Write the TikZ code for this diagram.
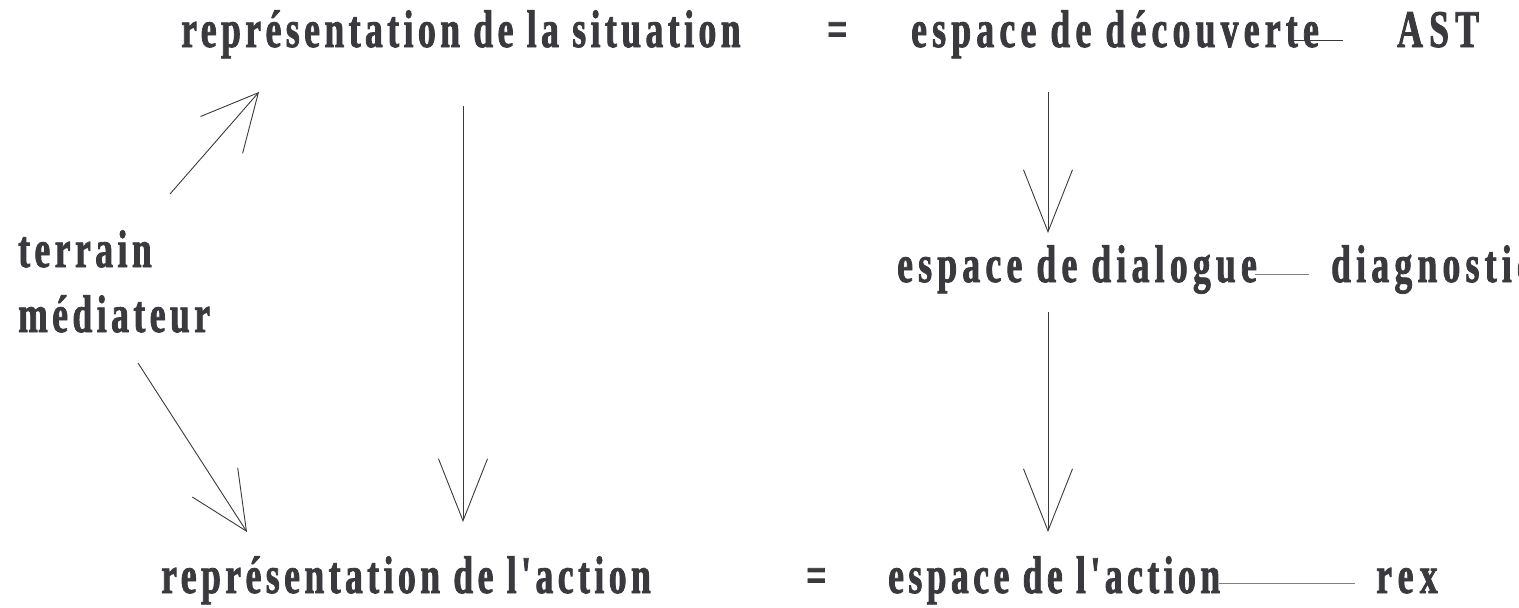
\documentclass[tikz,border=0pt]{standalone}
\usepackage{fontspec}
\newfontfamily\lbl{Liberation Serif}[FakeStretch=0.67,LetterSpace=8.5,FakeBold=1.5]
\newfontfamily\lblw{Liberation Serif}[FakeStretch=0.67,LetterSpace=10,FakeBold=1.5]
\newfontfamily\lblx{Liberation Serif}[FakeStretch=0.67,LetterSpace=12,FakeBold=1.5]
\usetikzlibrary{arrows.meta}
\definecolor{ink}{RGB}{58,58,62}
\begin{document}
\begin{tikzpicture}[x=1pt,y=-1pt,
  lab/.style={anchor=base west, inner sep=0pt, text=ink, font=\lbl\bfseries\fontsize{53}{56}\selectfont},
  labw/.style={lab, font=\lblw\bfseries\fontsize{53}{56}\selectfont},
  labx/.style={lab, font=\lblx\bfseries\fontsize{53}{56}\selectfont},
  conn/.style={draw=ink, line width=0.9pt},
  vtip/.style={-{Straight Barb[length=62pt,width=49pt,line width=0.9pt]}},
  utip/.style={-{Straight Barb[length=56pt,width=56pt,line width=0.9pt]}},
  dtip/.style={-{Straight Barb[length=58pt,width=54pt,line width=0.9pt]}}]
\useasboundingbox (0,0) rectangle (1519,608);
\clip (0,0) rectangle (1519,608);
% labels
\node[lab] (rsit) at (181,47) {représentation de la situation};
\node[lab] (eq1) at (827,47) {=};
\node[labw] (edec) at (911,47) {espace de découverte};
\node[labx] (ast) at (1397,47) {AST};
\node[lab] (terrain) at (18,267) {terrain};
\node[lab] (med) at (18,332) {médiateur};
\node[labw] (edia) at (897,282) {espace de dialogue};
\node[labw] (diag) at (1331,282) {diagnostic};
\node[lab] (ract) at (161,593) {représentation de l'action};
\node[lab] (eq2) at (806,593) {=};
\node[lab] (eact) at (888,593) {espace de l'action};
\node[labx] (rex) at (1376,593) {rex};
% connector ends
\coordinate (u0) at (170,194); \coordinate (u1) at (259,92);
\coordinate (d0) at (138,363); \coordinate (d1) at (247,532);
\coordinate (v0) at (463,106); \coordinate (v1) at (463,522);
\coordinate (r0) at (1048,92); \coordinate (r1) at (1048,233);
\coordinate (s0) at (1048,312); \coordinate (s1) at (1048,532);
\coordinate (l1a) at (1289,40); \coordinate (l1b) at (1343,40);
\coordinate (l2a) at (1255,274); \coordinate (l2b) at (1309,274);
\coordinate (l3a) at (1219,583); \coordinate (l3b) at (1355,583);
% connectors
\draw[conn,utip] (u0) -- (u1);
\draw[conn,dtip] (d0) -- (d1);
\draw[conn,vtip] (v0) -- (v1);
\draw[conn,vtip] (r0) -- (r1);
\draw[conn,vtip] (s0) -- (s1);
\draw[conn] (l1a) -- (l1b);
\draw[conn,draw=gray] (l2a) -- (l2b);
\draw[conn,draw=gray] (l3a) -- (l3b);
\end{tikzpicture}
\end{document}
